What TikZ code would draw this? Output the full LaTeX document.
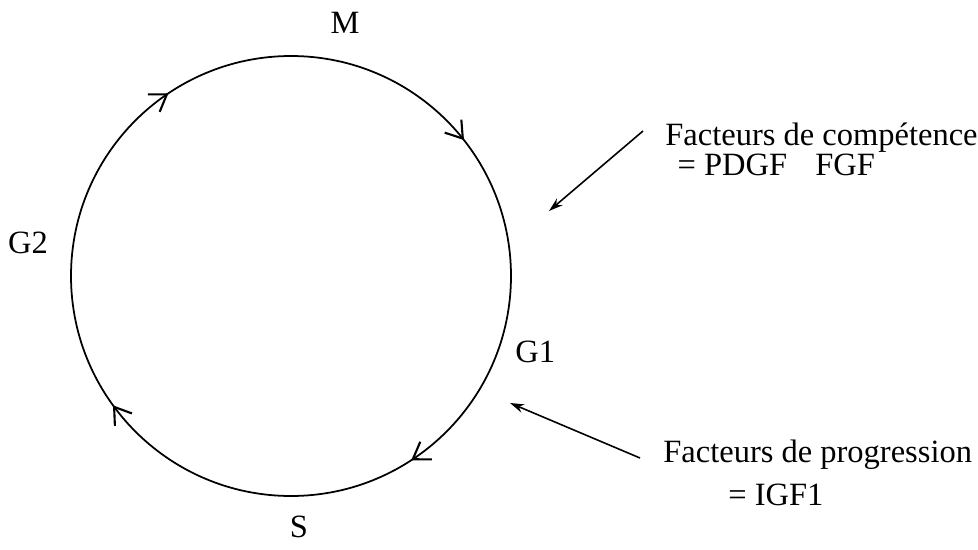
\documentclass[tikz,border=0pt]{standalone}
\usepackage{fontspec}
\setmainfont{Liberation Serif}
\usetikzlibrary{arrows.meta, decorations.markings}

\begin{document}
\begin{tikzpicture}[
    x=0.02cm, y=0.02cm,
    font=\fontsize{18.5}{22}\selectfont,
    barb/.tip={Straight Barb[length=9pt, width=12pt, line width=1.2pt]},
    cycle/.style={line width=1pt, postaction={decorate},
        decoration={markings,
            mark=at position 0.144 with {\arrow{barb}},
            mark=at position 0.408 with {\arrow{barb}},
            mark=at position 0.650 with {\arrow{barb}},
            mark=at position 0.906 with {\arrow{barb}}}},
    arr/.style={-{Stealth[length=8pt, width=5pt]}, line width=0.9pt},
    lbl/.style={inner sep=0pt, anchor=base},
    txt/.style={inner sep=0pt, anchor=base west, align=left},
]
    \useasboundingbox (0,0) rectangle (978,549);
    \coordinate (c) at (291,273);
    % cell cycle
    \draw[cycle] (c) ++(90:220) arc[start angle=90, end angle=-270, radius=220];
    \node[lbl] (m)  at (345,516) {M};
    \node[lbl] (g2) at (28,296)  {G2};
    \node[lbl, anchor=base west] (g1) at (515,187) {G1};
    \node[lbl] (s)  at (299,12)  {S};
    % factors
    \node[txt] (comp) at (665,374) {Facteurs de compétence\\[-5pt]\hspace*{7pt}= PDGF\hspace{16pt}FGF};
    \node[txt] (prog) at (663,44) {Facteurs de progression\\[2pt]\hspace*{37pt}= IGF1};
    \coordinate (compFrom) at (643,418);
    \coordinate (compTo)   at (549,338);
    \coordinate (progFrom) at (640,91);
    \coordinate (progTo)   at (510,146);
    \draw[arr] (compFrom) -- (compTo);
    \draw[arr] (progFrom) -- (progTo);
\end{tikzpicture}
\end{document}
